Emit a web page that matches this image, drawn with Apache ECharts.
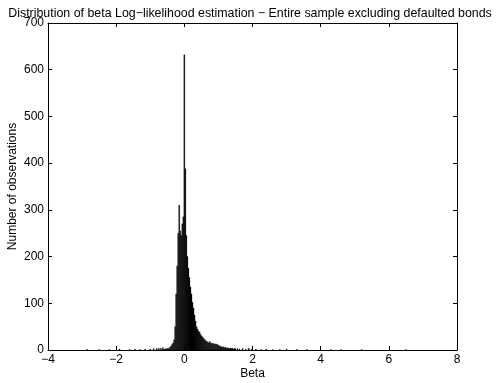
<!DOCTYPE html>
<html>
<head>
<meta charset="utf-8">
<script src="https://cdn.jsdelivr.net/npm/echarts@6/dist/echarts.min.js"></script>
<style>html,body{margin:0;padding:0;background:#fff}#c{width:500px;height:383px}</style>
</head>
<body>
<div id="c"></div>
<script>
// ---- data ----
const titleText = 'Distribution of beta Log\u2212likelihood estimation \u2212 Entire sample excluding defaulted bonds';
const xTicks = [-4, -2, 0, 2, 4, 6, 8];
const yTicks = [0, 100, 200, 300, 400, 500, 600, 700];
const binWidth = 0.03;
const coreFirstCenter = -0.6;
const coreCounts = [
  2, 1, 3, 2, 4, 3, 6, 8, 12, 15,          // -0.60 .. -0.33
  22, 50, 120, 180, 250, 310, 255, 245, 270, 285, // -0.30 .. -0.03
  632, 388, 245, 200, 175, 155, 135, 120, 102, 90, // 0.00 .. 0.27
  75, 62, 50, 45, 40, 38, 33, 30, 27, 25,  // 0.30 .. 0.57
  22, 20, 18, 17, 15, 18, 14, 15, 13, 14,  // 0.60 .. 0.87
  12, 13, 12, 11, 8, 9, 7, 6, 7, 5,        // 0.90 .. 1.17
  6, 4, 5, 4, 3, 4, 3, 4, 2, 3, 3          // 1.20 .. 1.50
];
const tailCenters = [-2.85, -2.5, -2.2, -1.9, -1.6, -1.45, -1.3, -1.15, -1.0, -0.9, -0.81, -0.75, -0.69, -0.63,
  1.56, 1.62, 1.71, 1.8, 1.89, 1.98, 2.1, 2.25, 2.4, 2.6, 2.8, 3.0, 3.3, 3.6, 4.3, 4.6, 5.2, 6.5];
const tailCounts = [1, 1, 1, 2, 1, 2, 1, 2, 2, 3, 3, 4, 4, 5,
  3, 2, 3, 2, 4, 2, 2, 1, 2, 1, 1, 2, 1, 1, 1, 1, 1, 1];

// ---- build bins ----
const bins = [];
coreCounts.forEach((c, i) => {
  const ctr = coreFirstCenter + i * binWidth;
  bins.push([ctr - binWidth / 2, ctr + binWidth / 2, c]);
});
tailCenters.forEach((ctr, i) => {
  bins.push([ctr - binWidth / 2, ctr + binWidth / 2, tailCounts[i]]);
});

const font = 'Liberation Sans, Arial, Helvetica, sans-serif';
const chart = echarts.init(document.getElementById('c'), null, {renderer: 'canvas'});
const axisCommon = {
  axisLine: {show: true, onZero: false, lineStyle: {color: '#000', width: 1}},
  axisTick: {show: true, inside: true, length: 4, lineStyle: {color: '#000'}},
  splitLine: {show: false}
};
chart.setOption({
  animation: false,
  backgroundColor: '#fff',
  title: {
    text: titleText, left: 'center', top: 3,
    textStyle: {fontFamily: font, fontSize: 12.4, fontWeight: 'normal', color: '#000'}
  },
  grid: {left: 48, right: 43, top: 23, bottom: 33, containLabel: false, outerBoundsMode: 'none'},
  xAxis: [
    Object.assign({
      type: 'value', min: xTicks[0], max: xTicks[xTicks.length - 1], interval: 2,
      name: 'Beta', nameLocation: 'middle', nameGap: 18, nameMoveOverlap: false,
      nameTextStyle: {fontFamily: font, fontSize: 12, color: '#000'},
      axisLabel: {fontFamily: font, fontSize: 12, color: '#000', margin: 4,
        formatter: v => (v < 0 ? '\u2212' + Math.abs(v) : String(v))}
    }, axisCommon),
    Object.assign({
      type: 'value', position: 'top', min: xTicks[0], max: xTicks[xTicks.length - 1], interval: 2,
      axisLabel: {show: false}
    }, axisCommon)
  ],
  yAxis: [
    Object.assign({
      type: 'value', min: yTicks[0], max: yTicks[yTicks.length - 1], interval: 100,
      name: 'Number of observations', nameLocation: 'middle', nameGap: 29, nameMoveOverlap: false,
      nameTextStyle: {fontFamily: font, fontSize: 12, color: '#000'},
      axisLabel: {fontFamily: font, fontSize: 12, color: '#000', margin: 4}
    }, axisCommon),
    Object.assign({
      type: 'value', position: 'right', min: yTicks[0], max: yTicks[yTicks.length - 1], interval: 100,
      axisLabel: {show: false}
    }, axisCommon)
  ],
  series: [{
    type: 'custom',
    xAxisIndex: 0, yAxisIndex: 0,
    data: bins,
    encode: {x: [0, 1], y: 2},
    renderItem: function (params, api) {
      const p0 = api.coord([api.value(0), api.value(2)]);
      const p1 = api.coord([api.value(1), 0]);
      return {
        type: 'rect',
        shape: {x: p0[0], y: p0[1], width: Math.max(p1[0] - p0[0], 0.8), height: p1[1] - p0[1]},
        style: {fill: '#000', stroke: '#000', lineWidth: 0.3}
      };
    }
  }]
});
</script>
</body>
</html>
